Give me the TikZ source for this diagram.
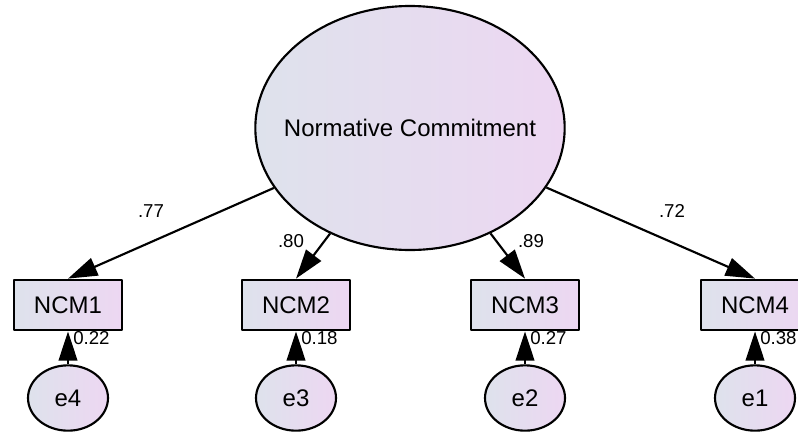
\documentclass[tikz,border=0pt]{standalone}
\usepackage{fontspec}
\setmainfont{Liberation Sans}
\usetikzlibrary{shapes.geometric,arrows.meta}
\definecolor{amosleft}{RGB}{222,226,236}
\definecolor{amosright}{RGB}{237,215,242}

\begin{document}
\begin{tikzpicture}[x=0.75pt, y=-0.75pt, >={Triangle[length=22pt,width=14pt]}, line join=round,
    latent/.style={ellipse, draw, line width=1.6pt, left color=amosleft, right color=amosright,
        inner sep=0pt, minimum width=232pt, minimum height=183pt, font=\fontsize{18}{20}\selectfont},
    indicator/.style={rectangle, draw, line width=1.6pt, left color=amosleft, right color=amosright,
        inner sep=0pt, minimum width=81pt, minimum height=38pt, font=\fontsize{18}{20}\selectfont},
    errvar/.style={ellipse, draw, line width=1.6pt, left color=amosleft, right color=amosright,
        inner sep=0pt, minimum width=60pt, minimum height=49pt, font=\fontsize{18}{20}\selectfont},
    coef/.style={inner sep=0pt, font=\fontsize{14}{16}\selectfont},
    path/.style={line width=1.6pt}]
    % 画布
    \useasboundingbox (0,0) rectangle (798,432);
    \clip (0,0) rectangle (798,432);

    % 潜变量
    \node[latent] (NC) at (410,128) {\makebox[0pt]{Normative Commitment}};

    % 观测变量
    \node[indicator] (ncm1) at (68,305) {NCM1};
    \node[indicator] (ncm2) at (296,305) {NCM2};
    \node[indicator] (ncm3) at (525,305) {NCM3};
    \node[indicator] (ncm4) at (755,305) {NCM4};

    % 误差项
    \node[errvar] (e4) at (68,398) {e4};
    \node[errvar] (e3) at (296,398) {e3};
    \node[errvar] (e2) at (525,398) {e2};
    \node[errvar] (e1) at (755,398) {e1};

    % 因子载荷
    \draw[->, path] (NC) -- (ncm1.north);
    \draw[->, path] (NC) -- (ncm2.north);
    \draw[->, path] (NC) -- (ncm3.north);
    \draw[->, path] (NC) -- (ncm4.north);
    \node[coef] (w1) at (151,211) {.77};
    \node[coef] (w2) at (291,241) {.80};
    \node[coef] (w3) at (531,241) {.89};
    \node[coef] (w4) at (672,211) {.72};

    % 误差路径
    \draw[->, path] (e4) -- (ncm1);
    \draw[->, path] (e3) -- (ncm2);
    \draw[->, path] (e2) -- (ncm3);
    \draw[->, path] (e1) -- (ncm4);

    % 残差
    \node[coef, anchor=west] (r1) at (73,338) {0.22};
    \node[coef, anchor=west] (r2) at (301,338) {0.18};
    \node[coef, anchor=west] (r3) at (530,338) {0.27};
    \node[coef, anchor=west] (r4) at (760,338) {0.38};
\end{tikzpicture}
\end{document}
